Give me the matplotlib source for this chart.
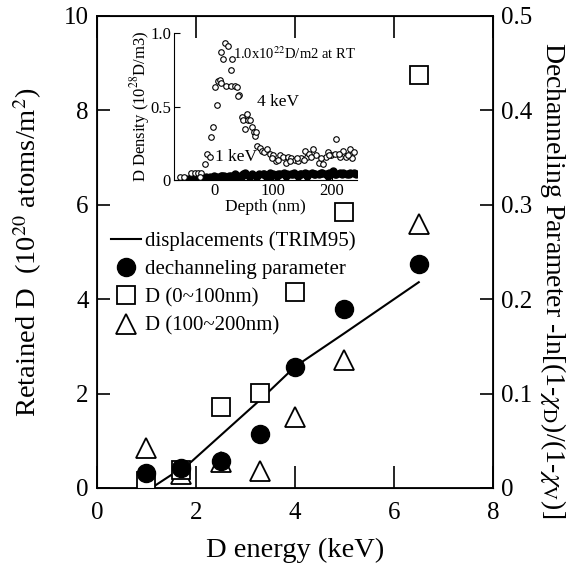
import numpy as np
import matplotlib
matplotlib.use('Agg')
import matplotlib.pyplot as plt
from matplotlib.lines import Line2D

plt.rcParams['font.family'] = ['Liberation Serif', 'DejaVu Serif']
plt.rcParams['mathtext.fontset'] = 'stix'

# main panel data (retained D in 1e20 atoms/m2; dechanneling scaled x20 onto left axis)
energy = [1.0, 1.7, 2.5, 3.3, 4.0, 5.0, 6.5]
dechan = [0.016, 0.021, 0.0285, 0.057, 0.1285, 0.19, 0.2375]
d_0_100 = [0.15, 0.38, 1.72, 2.02, 4.15, 5.85, 8.75]
d_100_200 = [0.85, 0.30, 0.55, 0.36, 1.50, 2.71, 5.60]
trim_x = [1.1, 1.9, 3.3, 4.0, 5.0, 6.5]
trim_y = [0.0, 0.55, 1.87, 2.57, 3.28, 4.36]

# inset data: depth profiles (nm, 1e28 D/m3)
prof4_x = [-60, -53, -40, -34, -28, -23, -26, -17, -13, -9, -7, -3, 3, 0, 6, 8.5, 11,
           11, 14, 17, 23, 20, 28, 30, 28, 34, 38, 41, 40, 46, 51, 48, 55, 57, 61, 63,
           67, 68, 71, 73, 77, 80, 85, 90, 94, 100, 105, 111, 117, 121, 125, 131, 137,
           142, 148, 154, 157, 162, 168, 174, 179, 185, 191, 194, 199, 205, 208, 214,
           219, 225, 231, 234, 239, 98, 108, 128, 140, 152, 165, 182, 196, 212, 228]
prof4_y = [0.02, 0.02, 0.05, 0.05, 0.05, 0.05, 0.02, 0.11, 0.18, 0.16, 0.29, 0.36, 0.51,
           0.63, 0.67, 0.68, 0.66, 0.87, 0.82, 0.93, 0.91, 0.64, 0.64, 0.82, 0.75, 0.64,
           0.63, 0.58, 0.57, 0.43, 0.35, 0.41, 0.45, 0.41, 0.41, 0.36, 0.33, 0.30, 0.33,
           0.23, 0.22, 0.20, 0.19, 0.21, 0.18, 0.17, 0.13, 0.17, 0.16, 0.12, 0.16, 0.15,
           0.14, 0.13, 0.15, 0.20, 0.16, 0.18, 0.21, 0.17, 0.12, 0.11, 0.16, 0.19, 0.17,
           0.18, 0.28, 0.16, 0.20, 0.16, 0.21, 0.15, 0.19, 0.15, 0.14, 0.13, 0.15, 0.14,
           0.16, 0.15, 0.17, 0.18, 0.17]
prof1_x = [-45, -38, -30, -22, -15, -8, -2, 4, 10, 16, 22, 28, 34, 40, 46, 52, 58, 64,
           70, 76, 82, 88, 94, 100, 106, 112, 118, 124, 130, 136, 142, 148, 154, 160,
           166, 172, 178, 184, 190, 196, 202, 208, 214, 220, 226, 232, 238,
           1, 13, 25, 37, 49, 61, 73, 85, 97, 109, 121, 133, 145, 157, 169, 181, 193,
           205, 217, 229, 241]
prof1_y = [0.01, 0.01, 0.02, 0.02, 0.02, 0.02, 0.03, 0.02, 0.03, 0.03, 0.02, 0.03, 0.04,
           0.03, 0.03, 0.05, 0.03, 0.04, 0.03, 0.04, 0.04, 0.03, 0.05, 0.04, 0.03, 0.04,
           0.05, 0.04, 0.04, 0.05, 0.03, 0.04, 0.05, 0.04, 0.05, 0.04, 0.04, 0.05, 0.04,
           0.05, 0.06, 0.04, 0.05, 0.05, 0.04, 0.05, 0.05,
           0.02, 0.03, 0.03, 0.02, 0.04, 0.03, 0.03, 0.04, 0.03, 0.04, 0.03, 0.04, 0.04,
           0.03, 0.04, 0.05, 0.03, 0.04, 0.04, 0.04, 0.04]

fig = plt.figure(figsize=(5.7, 5.65), dpi=100)
ax = fig.add_axes([0.170, 0.1363, 0.695, 0.8354])

ax.plot(trim_x, trim_y, '-', color='black', lw=1.5, zorder=2)
ax.plot(energy, d_100_200, '^', ms=14, mfc='white', mec='black', mew=1.3, zorder=3)
ax.plot(energy, d_0_100, 's', ms=12.5, mfc='white', mec='black', mew=1.3, zorder=4)
ax.plot(energy, np.array(dechan) * 20, 'o', ms=13, color='black', zorder=5)

ax.set_xlim(0, 8)
ax.set_ylim(0, 10)
ax.set_xticks([0, 2, 4, 6, 8])
ax.set_yticks([0, 2, 4, 6, 8, 10])
ax.tick_params(axis='x', direction='in', length=16, width=1.2, top=True,
               labelsize=18, pad=10)
ax.tick_params(axis='y', direction='in', length=9.5, width=1.2, labelsize=18, pad=6)
for s in ax.spines.values():
    s.set_linewidth(1.3)
ax.set_xlabel('D energy (keV)', fontsize=20.5, labelpad=10)
ax.set_ylabel(r'Retained D  (10$^{20}$ atoms/m$^{2}$)', fontsize=20.5, labelpad=14)

ax2 = ax.twinx()
ax2.set_ylim(0, 0.5)
ax2.set_yticks([0, 0.1, 0.2, 0.3, 0.4, 0.5])
ax2.set_yticklabels(['0', '0.1', '0.2', '0.3', '0.4', '0.5'])
ax2.tick_params(axis='y', direction='in', length=9.5, width=1.2, labelsize=18, pad=6)
ax2.set_ylabel(r'Dechanneling Parameter -ln[(1-$\chi_\mathrm{D}$)/(1-$\chi_\mathrm{V}$)]',
               fontsize=20, rotation=270, va='center')
ax2.yaxis.set_label_coords(1.152, 0.44)

handles = [
    Line2D([], [], color='black', lw=1.5),
    Line2D([], [], marker='o', ls='none', ms=13, color='black'),
    Line2D([], [], marker='s', ls='none', ms=12.5, mfc='white', mec='black', mew=1.3),
    Line2D([], [], marker='^', ls='none', ms=14, mfc='white', mec='black', mew=1.3),
]
labels = ['displacements (TRIM95)', 'dechanneling parameter',
          'D (0~100nm)', 'D (100~200nm)']
ax.legend(handles, labels, loc='upper left', bbox_to_anchor=(0.0, 0.575),
          frameon=False, fontsize=15, handlelength=1.4, handletextpad=0.2,
          labelspacing=0.42, borderaxespad=0.3)

# inset
ins = fig.add_axes([0.305, 0.681, 0.321, 0.261])
ins.patch.set_alpha(0)
ins.plot(prof1_x, prof1_y, 'o', ms=5, color='black', zorder=2)
ins.plot(prof4_x, prof4_y, 'o', ms=4, mfc='white', mec='black', mew=0.8, zorder=3)
ins.set_xlim(-70, 243)
ins.set_ylim(0, 1.0)
ins.set_xticks([0, 100, 200])
ins.set_yticks([0, 0.5, 1.0])
ins.set_yticklabels(['0', '0.5', '1.0'])
ins.spines['top'].set_visible(False)
ins.spines['right'].set_visible(False)
ins.tick_params(axis='both', direction='in', length=4, labelsize=12, pad=2)
ins.set_xlabel('Depth (nm)', fontsize=12.5, labelpad=0)
ins.set_ylabel(r'D Density (10$^{28}$D/m3)', fontsize=12, labelpad=-1)
ins.text(31, 0.86, r'1.0x10$^{22}$D/m2 at RT', fontsize=10.5, va='center')
ins.text(72, 0.53, '4 keV', fontsize=12.5, va='center')
ins.text(0, 0.16, '1 keV', fontsize=12.5, va='center')

fig.savefig('out.png', dpi=100)
